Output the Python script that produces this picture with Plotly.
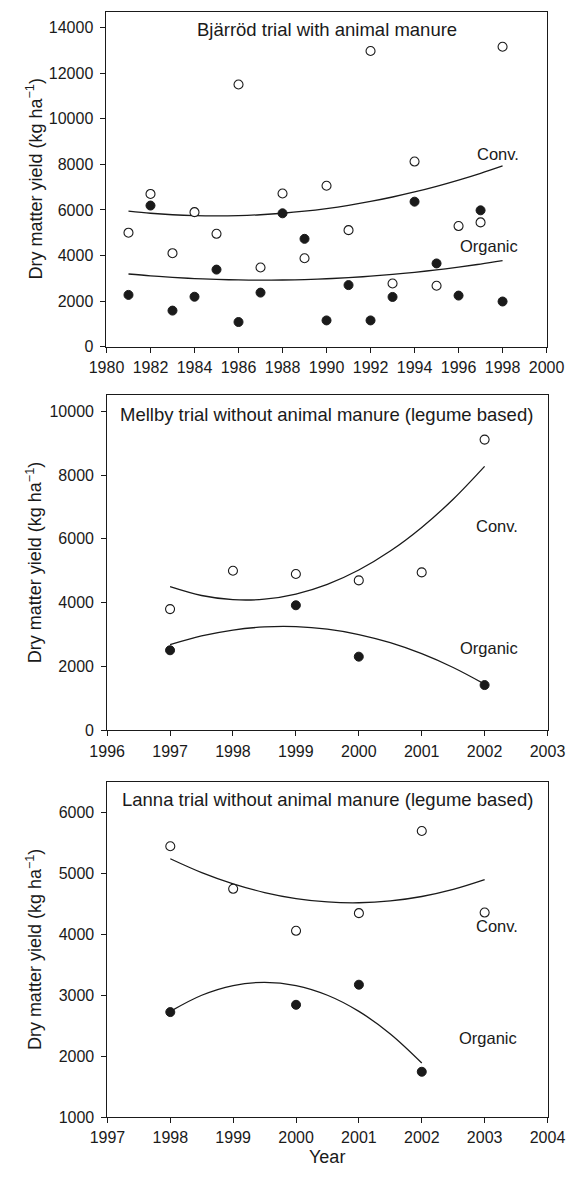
import plotly.graph_objects as go

# ---------------- data ----------------
# Bjärröd (with animal manure)
bj_years = list(range(1981, 1999))
bj_conv = [5000, 6700, 4100, 5900, 4950, 11500, 3470, 6720, 3880, 7060, 5110, 12970, 2770, 8120, 2670, 5290, 5450, 13160]
bj_org = [2270, 6190, 1580, 2190, 3380, 1080, 2370, 5850, 4730, 1150, 2700, 1150, 2180, 6360, 3650, 2240, 5980, 1980]
bj_fit_years = list(range(1981, 1999))
bj_conv_fit = [5943, 5852, 5787, 5748, 5735, 5748, 5787, 5852, 5943, 6060, 6202, 6371, 6566, 6786, 7033, 7306, 7604, 7929]
bj_org_fit = [3186, 3106, 3039, 2987, 2950, 2927, 2918, 2924, 2944, 2979, 3028, 3091, 3169, 3261, 3368, 3489, 3625, 3775]

# Mellby (without animal manure, legume based)
me_years = [1997, 1998, 1999, 2000, 2001, 2002]
me_conv = [3800, 5000, 4900, 4700, 4950, 9110]
me_org_years = [1997, 1999, 2000, 2002]
me_org = [2510, 3920, 2310, 1420]
me_fit_years = [1997, 1997.5, 1998, 1998.5, 1999, 1999.5, 2000, 2000.5, 2001, 2001.5, 2002]
me_conv_fit = [4502, 4226, 4096, 4110, 4270, 4574, 5024, 5618, 6358, 7242, 8272]
me_org_fit = [2684, 2958, 3144, 3241, 3250, 3170, 3003, 2746, 2402, 1969, 1448]

# Lanna (without animal manure, legume based)
la_years = [1998, 1999, 2000, 2001, 2002, 2003]
la_conv = [5450, 4750, 4060, 4350, 5700, 4360]
la_org_years = [1998, 2000, 2001, 2002]
la_org = [2725, 2845, 3175, 1745]
la_conv_fit_years = [1998, 1998.5, 1999, 1999.5, 2000, 2000.5, 2001, 2001.5, 2002, 2002.5, 2003]
la_conv_fit = [5244, 5016, 4831, 4689, 4590, 4534, 4521, 4551, 4624, 4740, 4900]
la_org_fit_years = [1998, 1998.5, 1999, 1999.5, 2000, 2000.5, 2001, 2001.5, 2002]
la_org_fit = [2737, 3002, 3161, 3214, 3161, 3002, 2737, 2366, 1889]

titles = ["Bjärröd trial with animal manure",
          "Mellby trial without animal manure (legume based)",
          "Lanna trial without animal manure (legume based)"]

# ---------------- figure ----------------
W, H = 584, 1179
FONT = "Liberation Sans, Arial, sans-serif"
INK = "#1a1a1a"

fig = go.Figure()

def add_panel(idx, fx, fconv, forg, cx, cy, ox, oy, fxo=None):
    xa = "x" if idx == 1 else f"x{idx}"
    ya = "y" if idx == 1 else f"y{idx}"
    fig.add_trace(go.Scatter(x=fx, y=fconv, mode="lines", xaxis=xa, yaxis=ya,
                             line=dict(color=INK, width=1.3, shape="spline"), hoverinfo="skip"))
    fig.add_trace(go.Scatter(x=fxo if fxo is not None else fx, y=forg, mode="lines", xaxis=xa, yaxis=ya,
                             line=dict(color=INK, width=1.3, shape="spline"), hoverinfo="skip"))
    fig.add_trace(go.Scatter(x=cx, y=cy, mode="markers", xaxis=xa, yaxis=ya,
                             marker=dict(symbol="circle", size=9, color="white",
                                         line=dict(color=INK, width=1.1))))
    fig.add_trace(go.Scatter(x=ox, y=oy, mode="markers", xaxis=xa, yaxis=ya,
                             marker=dict(symbol="circle", size=9, color=INK,
                                         line=dict(color=INK, width=1))))

add_panel(1, bj_fit_years, bj_conv_fit, bj_org_fit, bj_years, bj_conv, bj_years, bj_org)
add_panel(2, me_fit_years, me_conv_fit, me_org_fit, me_years, me_conv, me_org_years, me_org)
add_panel(3, la_conv_fit_years, la_conv_fit, la_org_fit, la_years, la_conv, la_org_years, la_org,
          fxo=la_org_fit_years)

def px_x(a, b):
    return [a / W, b / W]

def px_y(top, bottom):
    return [1 - bottom / H, 1 - top / H]

axis_common = dict(showline=True, linecolor=INK, linewidth=1, mirror=True,
                   ticks="outside", ticklen=5, tickwidth=1, tickcolor=INK,
                   showgrid=False, zeroline=False,
                   tickfont=dict(family=FONT, size=16, color=INK), tickformat="d")

panels = [
    dict(xd=px_x(94.3, 563.3), yd=px_y(11.7, 349.3), xr=[1980, 2000], yr=[0, 14700], dx=2, dy=2000),
    dict(xd=px_x(95.0, 564.3), yd=px_y(398.3, 736.0), xr=[1996, 2003], yr=[0, 10500], dx=1, dy=2000),
    dict(xd=px_x(95.3, 564.3), yd=px_y(788.3, 1125.7), xr=[1997, 2004], yr=[1000, 6500], dx=1, dy=1000),
]

layout = dict(width=W, height=H, margin=dict(l=0, r=0, t=0, b=0),
              paper_bgcolor="white", plot_bgcolor="white", showlegend=False,
              font=dict(family=FONT, color=INK))
for i, p in enumerate(panels, start=1):
    sx = "" if i == 1 else str(i)
    layout[f"xaxis{sx}"] = dict(axis_common, domain=p["xd"], range=p["xr"], dtick=p["dx"],
                                tick0=p["xr"][0], anchor=f"y{sx}", ticklabelstandoff=1)
    layout[f"yaxis{sx}"] = dict(axis_common, domain=p["yd"], range=p["yr"], dtick=p["dy"],
                                tick0=0, anchor=f"x{sx}", ticklabelstandoff=4)
fig.update_layout(**layout)

ann = []
tf = dict(family=FONT, size=18.5, color=INK)
lf = dict(family=FONT, size=16.5, color=INK)
C = dict(showarrow=False, xanchor="center", yanchor="middle")
# panel titles and series labels (data coordinates)
ann += [
    dict(C, x=1990, y=13920, xref="x", yref="y", text=titles[0], font=tf),
    dict(C, x=1997.8, y=8460, xref="x", yref="y", text="Conv.", font=lf),
    dict(C, x=1997.4, y=4410, xref="x", yref="y", text="Organic", font=lf),
    dict(C, x=1999.48, y=9910, xref="x2", yref="y2", text=titles[1], font=tf),
    dict(C, x=2002.19, y=6400, xref="x2", yref="y2", text="Conv.", font=lf),
    dict(C, x=2002.07, y=2580, xref="x2", yref="y2", text="Organic", font=lf),
    dict(C, x=2000.5, y=6210, xref="x3", yref="y3", text=titles[2], font=tf),
    dict(C, x=2003.19, y=4135, xref="x3", yref="y3", text="Conv.", font=lf),
    dict(C, x=2003.06, y=2300, xref="x3", yref="y3", text="Organic", font=lf),
]
ytitle = "Dry matter yield (kg ha<sup>−1</sup>)"
for i in (1, 2, 3):
    sx = "" if i == 1 else str(i)
    ann.append(dict(C, x=17.5 / W, y=0.5, xref="paper", yref=f"y{sx} domain", text=ytitle,
                    textangle=-90, font=dict(family=FONT, size=18, color=INK)))
ann.append(dict(C, x=0.5, y=1 - 1166 / H, xref="x3 domain", yref="paper", text="Year",
                font=dict(family=FONT, size=18, color=INK)))
fig.update_layout(annotations=ann)

fig.write_html("out.html")
